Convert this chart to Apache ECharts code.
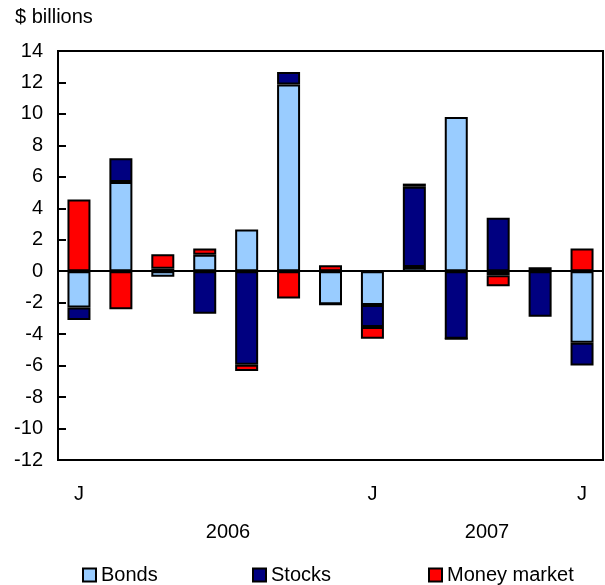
<!DOCTYPE html>
<html>
<head>
<meta charset="utf-8">
<script src="https://cdn.jsdelivr.net/npm/echarts@6/dist/echarts.min.js"></script>
<style>
html,body{margin:0;padding:0;background:#fff;}
#chart{width:605px;height:585px;}
</style>
</head>
<body>
<div id="chart"></div>
<script>
// Months June 2006 .. June 2007
var months = ['Jun 2006','Jul 2006','Aug 2006','Sep 2006','Oct 2006','Nov 2006','Dec 2006','Jan 2007','Feb 2007','Mar 2007','Apr 2007','May 2007','Jun 2007'];
var tickLabels = ['J','','','','','','','J','','','','','J'];
var bonds =       [-2.3, 5.68, -0.35, 1.05, 2.65, 11.87, -2.1, -2.15, 0.27, 9.81, -0.25, 0, -4.55];
var stocks =      [-0.8, 1.5, 0.15, -2.7, -5.95, 0.8, 0, -1.4, 5.1, -4.3, 3.4, -2.9, -1.45];
var moneyMarket = [4.56, -2.42, 0.93, 0.4, -0.4, -1.74, 0.38, -0.75, 0.2, 0, -0.7, 0.26, 1.44];
var yearLabels = ['2006','2007'];

var FONT = 'Liberation Sans, Arial, Helvetica, sans-serif';
var FS = 20;
var chart = echarts.init(document.getElementById('chart'), null, {renderer:'canvas'});

function barSeries(name, data, color){
  return {
    name: name, type: 'bar', stack: 'total', data: data, barWidth: 23,
    itemStyle: {color: color, borderColor: '#000', borderWidth: 2},
    emphasis: {disabled: true}
  };
}
var series = [
  barSeries('Bonds', bonds, '#99CCFF'),
  barSeries('Stocks', stocks, '#000080'),
  barSeries('Money market', moneyMarket, '#FF0000')
];
series[0].markLine = {
  silent: true, symbol: 'none', label: {show: false},
  lineStyle: {color: '#000', width: 2, type: 'solid'},
  data: [{yAxis: 0}]
};

function legendAt(left, name){
  return {
    show: true, left: left, top: 565, data: [name],
    icon: 'rect', itemWidth: 13, itemHeight: 13, itemGap: 0,
    textStyle: {fontFamily: FONT, fontSize: FS, color: '#000'},
    itemStyle: {borderColor: '#000', borderWidth: 2},
    selectedMode: false, padding: 0
  };
}

chart.setOption({
  animation: false,
  backgroundColor: '#fff',
  textStyle: {fontFamily: FONT},
  grid: {left: 58, top: 51, right: 2, bottom: 125, show: true, borderColor: '#000', borderWidth: 2, containLabel: false},
  legend: [legendAt(82, 'Bonds'), legendAt(252, 'Stocks'), legendAt(428, 'Money market')],
  xAxis: {
    type: 'category', data: months, position: 'bottom',
    axisLine: {show: true, onZero: false, lineStyle: {color: '#000', width: 2}},
    axisTick: {show: false},
    axisLabel: {
      interval: 0, margin: 24, color: '#000', fontFamily: FONT, fontSize: FS,
      formatter: function(v, i){ return tickLabels[i]; }
    },
    splitLine: {show: false}
  },
  yAxis: {
    type: 'value', min: -12, max: 14, interval: 2,
    axisLine: {show: true, lineStyle: {color: '#000', width: 2}},
    axisTick: {show: true, inside: true, length: 8, lineStyle: {color: '#000', width: 2}},
    axisLabel: {color: '#000', fontFamily: FONT, fontSize: FS, margin: 15},
    splitLine: {show: false}
  },
  graphic: [
    {type: 'text', left: 15, top: 7, style: {text: '$ billions', font: FS + 'px ' + FONT, fill: '#000'}},
    {type: 'text', x: 228, y: 532, style: {text: yearLabels[0], font: FS + 'px ' + FONT, fill: '#000', align: 'center', verticalAlign: 'middle'}},
    {type: 'text', x: 487, y: 532, style: {text: yearLabels[1], font: FS + 'px ' + FONT, fill: '#000', align: 'center', verticalAlign: 'middle'}}
  ],
  series: series
});
</script>
</body>
</html>
